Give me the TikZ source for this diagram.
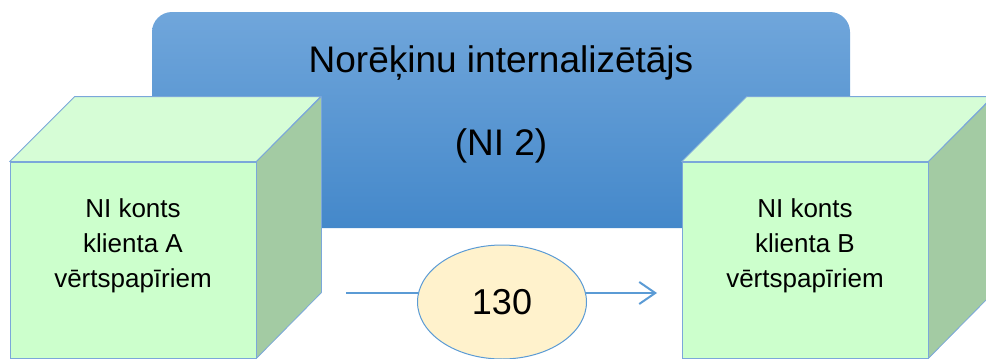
\documentclass[tikz,border=0pt]{standalone}
\usepackage{fontspec}
\setmainfont{Liberation Sans}
\usetikzlibrary{arrows.meta,shapes.geometric}
\definecolor{niTop}{RGB}{112,166,219}
\definecolor{niBottom}{RGB}{68,136,202}
\definecolor{cubeFront}{RGB}{204,255,204}
\definecolor{cubeTop}{RGB}{214,253,214}
\definecolor{cubeSide}{RGB}{163,203,163}
\definecolor{cubeEdge}{RGB}{123,167,218}
\definecolor{sumFill}{RGB}{255,242,204}
\definecolor{flowBlue}{RGB}{91,155,213}

\begin{document}
\begin{tikzpicture}[x=1pt, y=-1pt,
internalizer/.style={rectangle, rounded corners=20pt, top color=niTop, bottom color=niBottom, minimum width=698pt, minimum height=216pt, inner sep=0pt},
heading/.style={anchor=base, font=\fontsize{37}{44}\selectfont},
frontface/.style={rectangle, draw=cubeEdge, fill=cubeFront, line width=0.8pt, minimum width=246pt, minimum height=196pt, inner sep=0pt},
topface/.style={draw=cubeEdge, fill=cubeTop, line width=0.8pt, line join=round},
sideface/.style={draw=cubeEdge, fill=cubeSide, line width=0.8pt, line join=round},
account/.style={align=center, font=\fontsize{26}{35}\selectfont},
flow/.style={draw=flowBlue, line width=2pt, -{Straight Barb[length=16pt, width=22pt, line width=2pt]}},
amount/.style={ellipse, draw=flowBlue, fill=sumFill, line width=1pt, minimum width=169pt, minimum height=114pt, inner sep=0pt, font=\fontsize{36}{40}\selectfont},
]
\useasboundingbox (0,0) rectangle (986,359);
\clip (0,0) rectangle (986,359);

\node[internalizer] (ni) at (501,120) {};
\node[heading] (nititle) at (501,72) {Norēķinu internalizētājs};
\node[heading] (nicode) at (501,155) {(NI 2)};

\node[frontface] (kontsA) at (133,260) {};
\path[topface] (kontsA.north west) -- ++(65,-65) -- ++(246,0) -- (kontsA.north east) -- cycle;
\path[sideface] (kontsA.north east) -- ++(65,-65) -- ++(0,196) -- (kontsA.south east) -- cycle;
\node[account] (kontsAtxt) at (133,246) {NI konts\\klienta A\\vērtspapīriem};

\node[frontface] (kontsB) at (805,260) {};
\path[topface] (kontsB.north west) -- ++(65,-65) -- ++(246,0) -- (kontsB.north east) -- cycle;
\path[sideface] (kontsB.north east) -- ++(65,-65) -- ++(0,196) -- (kontsB.south east) -- cycle;
\node[account] (kontsBtxt) at (805,246) {NI konts\\klienta B\\vērtspapīriem};

\coordinate (flowstart) at (346,293);
\coordinate (flowend) at (657,293);
\draw[flow] (flowstart) -- (flowend);
\node[amount] (summa) at (502,302) {130};
\end{tikzpicture}
\end{document}
